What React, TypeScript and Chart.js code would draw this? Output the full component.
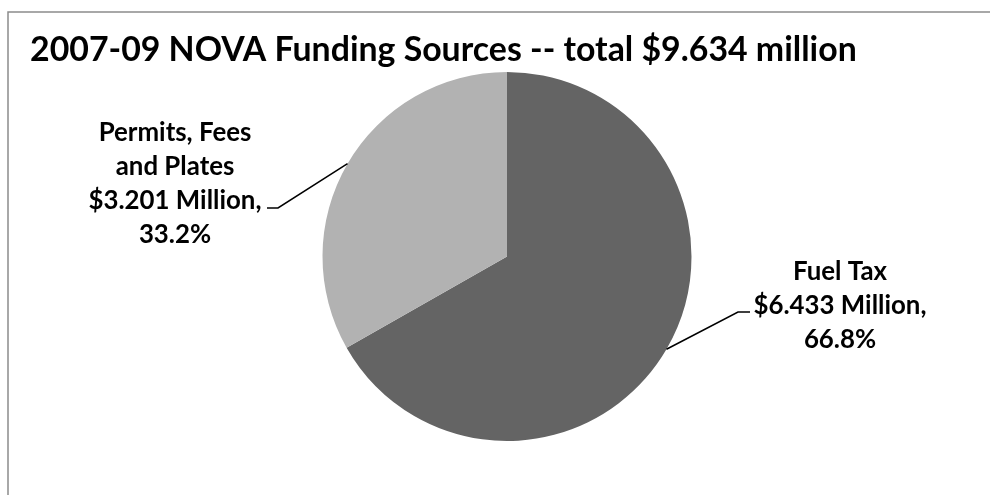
import React, { useEffect, useRef } from "react";
import { Chart, registerables } from "chart.js";

Chart.register(...registerables);

const categories = ["Fuel Tax", "Permits, Fees and Plates"];
const values = [6.433, 3.201];
const percents = ["66.8%", "33.2%"];
const sliceColors = ["#646464", "#b2b2b2"];
const titleText = "2007-09 NOVA Funding Sources -- total $9.634 million";
const labelLines = [
  ["Fuel Tax", "$6.433 Million,", "66.8%"],
  ["Permits, Fees", "and Plates", "$3.201 Million,", "33.2%"],
];

const FONT = "Lato, 'Open Sans', 'Liberation Sans', sans-serif";

function fitFont(ctx: CanvasRenderingContext2D, text: string, target: number) {
  ctx.font = `bold 30px ${FONT}`;
  const w = ctx.measureText(text).width;
  return (30 * target) / w;
}

const decorPlugin = {
  id: "decor",
  afterDraw(chart: any) {
    const ctx: CanvasRenderingContext2D = chart.ctx;
    ctx.save();
    // outer frame
    ctx.strokeStyle = "#8c8c8c";
    ctx.lineWidth = 1.5;
    ctx.beginPath();
    ctx.moveTo(8, 600);
    ctx.lineTo(8, 12);
    ctx.lineTo(1000, 12);
    ctx.stroke();

    // title
    const ts = fitFont(ctx, titleText, 827);
    ctx.font = `bold ${ts}px ${FONT}`;
    ctx.fillStyle = "#000";
    ctx.textAlign = "left";
    ctx.textBaseline = "alphabetic";
    ctx.fillText(titleText, 30, 61);

    const meta = chart.getDatasetMeta(0);
    const ls = fitFont(ctx, "$3.201 Million,", 173);
    ctx.font = `bold ${ls}px ${FONT}`;
    ctx.textAlign = "center";
    const lh = 34.2;

    meta.data.forEach((arc: any, i: number) => {
      const mid = (arc.startAngle + arc.endAngle) / 2;
      const r = arc.outerRadius;
      const ax = arc.x + Math.cos(mid) * r;
      const ay = arc.y + Math.sin(mid) * r;
      const right = Math.cos(mid) > 0;
      const lines = labelLines[i];
      let textCx: number, firstBase: number, elbowX: number, endX: number, lineY: number;
      if (right) {
        textCx = arc.x + 333;
        firstBase = arc.y + 23;
        lineY = arc.y + 55.5;
        elbowX = arc.x + 231;
        endX = arc.x + 243;
      } else {
        textCx = arc.x - 332;
        firstBase = arc.y - 116;
        lineY = arc.y - 48.5;
        elbowX = arc.x - 229;
        endX = arc.x - 240;
      }
      ctx.strokeStyle = "#000";
      ctx.lineWidth = 1.5;
      ctx.beginPath();
      ctx.moveTo(ax, ay);
      ctx.lineTo(elbowX, lineY);
      ctx.lineTo(endX, lineY);
      ctx.stroke();
      ctx.fillStyle = "#000";
      lines.forEach((t, k) => ctx.fillText(t, textCx, firstBase + k * lh));
    });
    ctx.restore();
  },
};

export default function App() {
  const ref = useRef<HTMLCanvasElement | null>(null);
  useEffect(() => {
    if (!ref.current) return;
    const chart = new Chart(ref.current, {
      type: "pie",
      data: {
        labels: categories,
        datasets: [
          {
            data: values,
            backgroundColor: sliceColors,
            borderWidth: 0,
          },
        ],
      },
      options: {
        animation: false,
        responsive: false,
        maintainAspectRatio: false,
        layout: { padding: { left: 322.5, right: 298.5, top: 72, bottom: 54 } },
        plugins: {
          legend: { display: false },
          title: { display: false },
          tooltip: { enabled: false },
        },
      },
      plugins: [decorPlugin],
    });
    return () => chart.destroy();
  }, []);
  return (
    <div style={{ position: "absolute", left: 0, top: 0, width: 990, height: 495, background: "#fff" }}>
      <canvas ref={ref} width={990} height={495} style={{ width: 990, height: 495, display: "block" }} />
    </div>
  );
}
